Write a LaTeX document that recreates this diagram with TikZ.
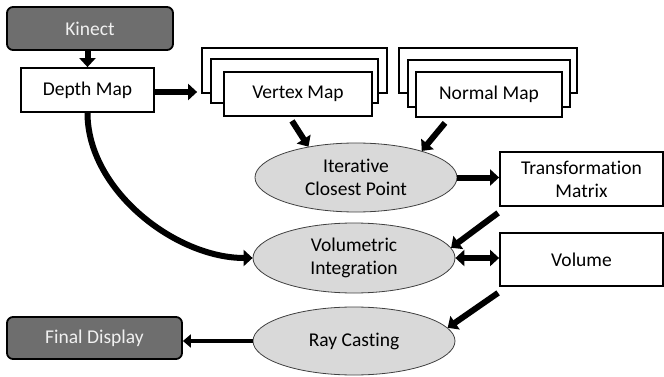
\documentclass[tikz,border=0pt]{standalone}
\usepackage{fontspec}
\setmainfont{Carlito}[Ligatures=NoCommon]
\usetikzlibrary{shapes.geometric,arrows.meta}
\definecolor{darkbox}{RGB}{110,110,110}
\definecolor{procfill}{RGB}{217,217,217}
\begin{document}
\begin{tikzpicture}[x=1pt, y=-1pt, font=\fontsize{19.5}{23}\selectfont,
  box/.style={draw, rectangle, line width=1.8pt, fill=white, inner sep=0pt,
              align=center},
  dark/.style={box, rounded corners=6pt, fill=darkbox, text=white!94!black},
  proc/.style={ellipse, draw=black!75, line width=0.8pt, fill=procfill,
               minimum width=202pt, minimum height=69pt, inner sep=0pt, align=center},
  arr/.style={line width=6pt, -{Triangle[length=9pt,width=16pt]}}]

\useasboundingbox (0,0) rectangle (664,377);

\node[dark, minimum width=166pt, minimum height=43pt] (kinect) at (90,28.5) {Kinect};
\node[box, minimum width=133pt, minimum height=44pt] (depth) at (87.5,90) {Depth Map};
\draw[arr] (kinect.south -| depth.north) -- (depth.north);

% stacked maps
\node[box, minimum width=185pt, minimum height=45pt] (vertexB) at (294.5,70.5) {};
\node[box, minimum width=167pt, minimum height=44pt] (vertexM) at (294.5,81) {};
\node[box, minimum width=148pt, minimum height=44pt] (vertex) at (298,94) {Vertex Map};

\node[box, minimum width=178pt, minimum height=45pt] (normalB) at (488,70.5) {};
\node[box, minimum width=162pt, minimum height=47pt] (normalM) at (489,83.5) {};
\node[box, minimum width=146pt, minimum height=45pt] (normal) at (489,94.5) {Normal Map};

\draw[arr, shorten >=4pt] (depth.east |- 0,92) -- (vertexB.west |- 0,92);

\node[proc] (icp) at (356,177.5) {Iterative\\Closest Point};
\draw[arr] ([shift={(-6,4)}]vertex.south) -- (icp.147);
\draw[arr] ([shift={(-44,5)}]normal.south) -- (icp.22);

\node[box, minimum width=163pt, minimum height=54pt] (tm) at (581.5,179) {Transformation\\Matrix};
\draw[arr] (icp.east) -- (icp.east -| tm.west);

\node[proc, minimum height=70pt] (vi) at (354,258) {Volumetric\\Integration};
\draw[arr] ([shift={(-1,6)}]tm.south west) -- (vi.6);
\draw[arr] (depth.south) to[out=-90, in=180, looseness=0.9] (vi.west);

\node[box, minimum width=163pt, minimum height=53pt] (vol) at (581.5,259.5) {Volume};
\draw[arr, {Triangle[length=9pt,width=16pt]}-{Triangle[length=9pt,width=16pt]}]
  (vi.east) -- (vi.east -| vol.west);

\node[proc, minimum height=68pt] (rc) at (354,341) {Ray Casting};
\draw[arr] ([shift={(-1,6)}]vol.south west) -- (rc.8);

\node[dark, minimum width=175pt, minimum height=42pt] (fd) at (94.5,338) {Final Display};
\draw[arr, line width=4.5pt, -{Triangle[length=8pt,width=13pt]}] (rc.west) -- (rc.west -| fd.east);
\end{tikzpicture}
\end{document}
